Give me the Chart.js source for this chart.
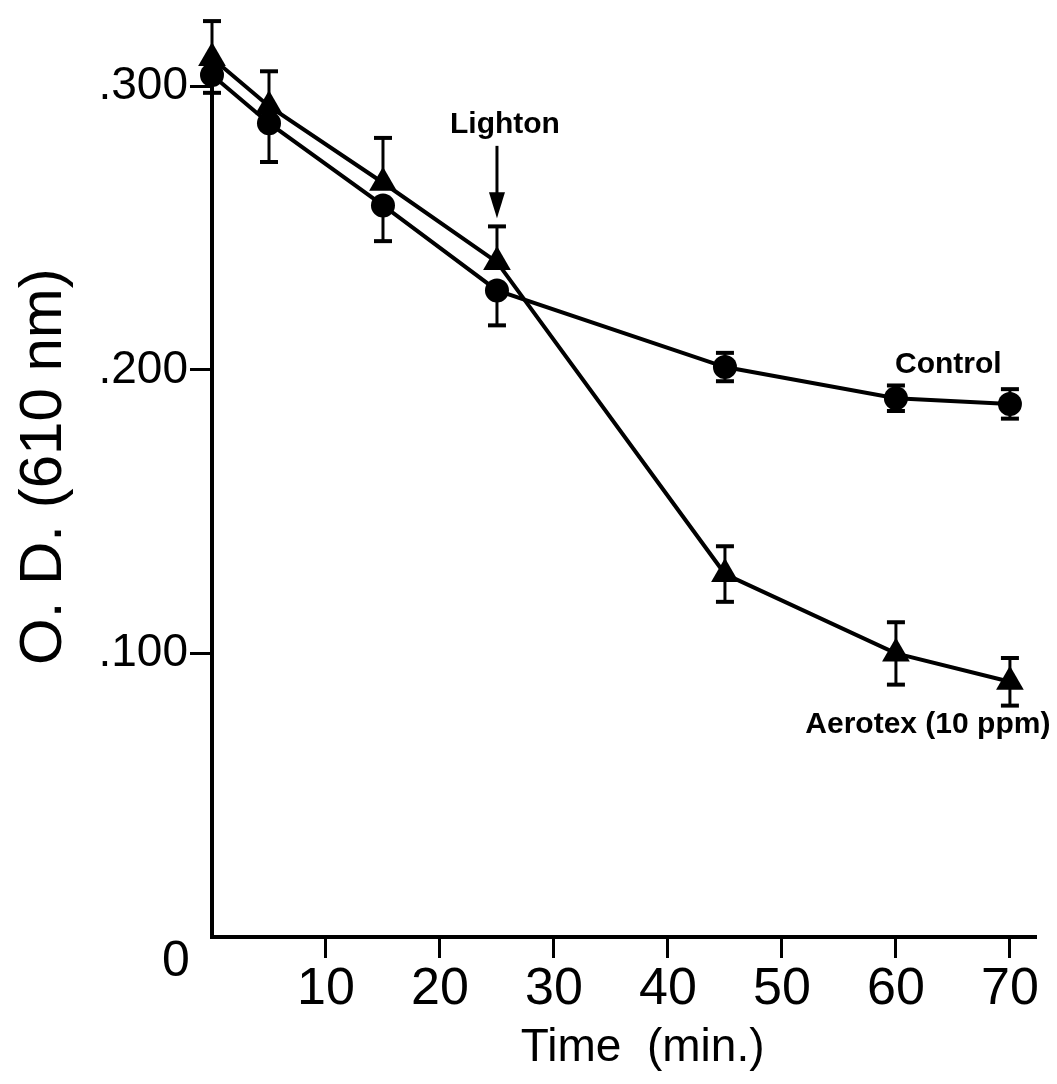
<!DOCTYPE html>
<html>
<head>
<meta charset="utf-8">
<script src="https://cdn.jsdelivr.net/npm/chart.js@4.4.1/dist/chart.umd.min.js"></script>
<style>
  html, body { margin: 0; padding: 0; background: #fff; }
  #wrap { width: 1057px; height: 1084px; position: relative; }
</style>
</head>
<body>
<div id="wrap"><canvas id="odChart"></canvas></div>
<script>
// time points (min.)
const times = [0, 5, 15, 25, 45, 60, 70];
// Control (circles)
const controlOD = [0.304, 0.287, 0.258, 0.228, 0.201, 0.190, 0.188];
const controlErrUp = [0, 0, 0, 0, 0.005, 0.0045, 0.0052];
const controlErrDown = [0.0063, 0.0137, 0.0126, 0.0123, 0.005, 0.0045, 0.0052];
// Aerotex 10 ppm (triangles)
const aerotexOD = [0.310, 0.293, 0.266, 0.238, 0.128, 0.100, 0.090];
const aerotexErrUp = [0.013, 0.0123, 0.0158, 0.0126, 0.0098, 0.011, 0.0084];
const aerotexErrDown = [0, 0, 0, 0, 0.0098, 0.011, 0.0084];
// axis ticks
const xTicks = [10, 20, 30, 40, 50, 60, 70];
const yTicks = [0.1, 0.2, 0.3];

const toPoints = (xs, ys) => xs.map((x, i) => ({x: x, y: ys[i]}));

const errorBars = {
    id: 'errorBars',
    beforeDatasetsDraw(chart) {
        const ctx = chart.ctx;
        const xs = chart.scales.x, ys = chart.scales.y;
        ctx.save();
        ctx.strokeStyle = '#000';
        // y axis line only runs up to the last tick (.300)
        ctx.lineWidth = 4;
        ctx.beginPath();
        ctx.moveTo(xs.left, ys.getPixelForValue(0) + 2);
        ctx.lineTo(xs.left, ys.getPixelForValue(yTicks[yTicks.length - 1]));
        ctx.stroke();
        chart.data.datasets.forEach(ds => {
            ds.data.forEach((p, i) => {
                const px = xs.getPixelForValue(p.x);
                const top = ys.getPixelForValue(p.y + ds.errUp[i]);
                const bot = ys.getPixelForValue(p.y - ds.errDown[i]);
                ctx.lineWidth = 3;
                ctx.beginPath();
                ctx.moveTo(px, top);
                ctx.lineTo(px, bot);
                ctx.stroke();
                ctx.lineWidth = 4;
                if (ds.errUp[i] > 0) {
                    ctx.beginPath(); ctx.moveTo(px - 9, top); ctx.lineTo(px + 9, top); ctx.stroke();
                }
                if (ds.errDown[i] > 0) {
                    ctx.beginPath(); ctx.moveTo(px - 9, bot); ctx.lineTo(px + 9, bot); ctx.stroke();
                }
            });
        });
        ctx.restore();
    }
};

const notes = {
    id: 'notes',
    afterDraw(chart) {
        const ctx = chart.ctx;
        const xs = chart.scales.x, ys = chart.scales.y;
        ctx.save();
        ctx.fillStyle = '#000';
        ctx.strokeStyle = '#000';
        // "Light on" arrow at 25 min
        const ax = xs.getPixelForValue(25);
        ctx.font = 'bold 30px "Liberation Sans", Arial, sans-serif';
        ctx.textAlign = 'center';
        ctx.textBaseline = 'alphabetic';
        ctx.fillText('Lighton', ax + 8, ys.getPixelForValue(0.2835));
        const a0 = ys.getPixelForValue(0.279), a1 = ys.getPixelForValue(0.2535);
        ctx.lineWidth = 3;
        ctx.beginPath(); ctx.moveTo(ax, a0); ctx.lineTo(ax, a1 - 20); ctx.stroke();
        ctx.beginPath();
        ctx.moveTo(ax - 8, a1 - 26); ctx.lineTo(ax, a1); ctx.lineTo(ax + 8, a1 - 26);
        ctx.closePath(); ctx.fill();
        // series labels
        ctx.fillText('Control', xs.getPixelForValue(64.6), ys.getPixelForValue(0.199));
        ctx.fillText('Aerotex (10 ppm)', xs.getPixelForValue(62.8), ys.getPixelForValue(0.072));
        // origin label
        ctx.font = '50px "Liberation Sans", Arial, sans-serif';
        ctx.textBaseline = 'middle';
        ctx.fillText('0', xs.left - 36, ys.bottom + 25);
        ctx.restore();
    }
};

const hideZero = c => (c.tick && c.tick.value === 0) ? 'rgba(0,0,0,0)' : '#000';

new Chart(document.getElementById('odChart'), {
    type: 'line',
    data: {
        datasets: [{
            label: 'Control',
            data: toPoints(times, controlOD),
            errUp: controlErrUp,
            errDown: controlErrDown,
            borderColor: '#000',
            backgroundColor: '#000',
            borderWidth: 4,
            pointStyle: 'circle',
            pointRadius: 12,
            pointBorderWidth: 0,
            clip: false
        }, {
            label: 'Aerotex (10 ppm)',
            data: toPoints(times, aerotexOD),
            errUp: aerotexErrUp,
            errDown: aerotexErrDown,
            borderColor: '#000',
            backgroundColor: '#000',
            borderWidth: 4,
            pointStyle: 'triangle',
            pointRadius: 16,
            pointBorderWidth: 0,
            clip: false
        }]
    },
    options: {
        responsive: true,
        maintainAspectRatio: false,
        animation: false,
        layout: { padding: { top: 20, right: 22, left: 0, bottom: 0 } },
        plugins: { legend: { display: false }, tooltip: { enabled: false } },
        scales: {
            x: {
                type: 'linear',
                min: 0,
                max: 72.2,
                afterFit: s => { s.height = 147; },
                afterBuildTicks: s => { s.ticks = [0].concat(xTicks).map(v => ({value: v})); },
                ticks: {
                    includeBounds: false,
                    color: '#000',
                    padding: 0,
                    maxRotation: 0,
                    font: { family: '"Liberation Sans", Arial, sans-serif', size: 52 },
                    callback: v => v === 0 ? '' : String(v)
                },
                grid: { drawOnChartArea: false, drawTicks: true, tickLength: 21, lineWidth: 3, color: hideZero },
                border: { display: true, color: '#000', width: 4 },
                title: {
                    display: true,
                    text: '   Time  (min.)',
                    color: '#000',
                    padding: { top: 0, bottom: 8 },
                    font: { family: '"Liberation Sans", Arial, sans-serif', size: 46 }
                }
            },
            y: {
                min: 0,
                max: 0.32,
                afterFit: s => { s.width = 212; },
                afterBuildTicks: s => { s.ticks = [0].concat(yTicks).map(v => ({value: v})); },
                ticks: {
                    color: '#000',
                    padding: 2,
                    font: { family: '"Liberation Sans", Arial, sans-serif', size: 46 },
                    callback: v => v === 0 ? '' : '.' + Math.round(v * 1000)
                },
                grid: { drawOnChartArea: false, drawTicks: true, tickLength: 22, lineWidth: 3, color: hideZero },
                border: { display: false },
                title: {
                    display: true,
                    text: '  O. D. (610 nm)',
                    color: '#000',
                    padding: { top: 8, bottom: 0 },
                    font: { family: '"Liberation Sans", Arial, sans-serif', size: 60 }
                }
            }
        }
    },
    plugins: [errorBars, notes]
});
</script>
</body>
</html>
